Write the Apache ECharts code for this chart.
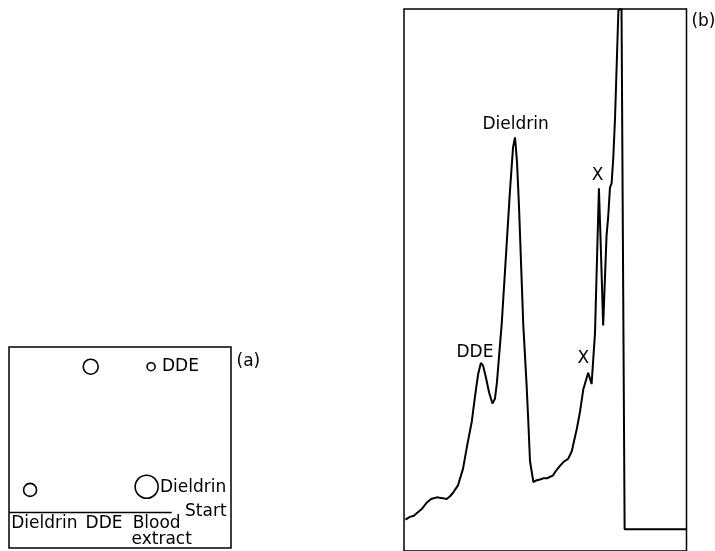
<!DOCTYPE html>
<html>
<head>
<meta charset="utf-8">
<script src="https://cdn.jsdelivr.net/npm/echarts@6/dist/echarts.min.js"></script>
<style>html,body{margin:0;padding:0;background:#fff}#c{width:715px;height:551px}</style>
</head>
<body>
<div id="c"></div>
<script>
// ---------- Panel (a): thin-layer plate ----------
const spotX = [36.8, 64.0, 9.5, 62.0];          // lane position
const spotRf = [90.2, 90.2, 28.9, 30.5];        // migration distance
const spotSize = [15, 8, 13, 23];               // spot diameter
const startLineX = [0, 73.3];
const startLineY = [17.6, 17.6];
const plateText = ["DDE", "Dieldrin", "Start", "Dieldrin", "DDE", "Blood", "extract", "(a)"];
const plateTextX = [68.9, 68.0, 79.3, 1.0, 34.5, 55.7, 55.2, 102.5];
const plateTextY = [90.2, 30.3, 18.1, 12.3, 12.3, 12.3, 4.3, 92.7];

// ---------- Panel (b): chromatogram trace ----------
const traceX = [0.5, 2.1, 3.5, 5.0, 6.4, 8.0, 9.6, 11.6, 13.1, 15.1, 16.3, 17.3, 19.1, 20.9, 22.3, 24.0, 25.1, 26.2, 27.2, 28.0,
  29.0, 30.1, 31.3, 32.2, 32.9, 34.6, 36.1, 37.5, 38.6, 39.3, 40.0, 40.7, 42.2, 43.4, 44.0, 44.6, 45.8, 46.7, 48.1, 49.3,
  50.6, 51.7, 52.7, 53.8, 55.2, 56.6, 58.1, 59.4, 60.2, 61.2, 62.3, 63.5, 65.2, 66.4, 67.6, 69.0, 69.7, 70.5, 71.7, 72.3,
  72.9, 73.5, 74.1, 74.7, 75.9, 76.5, 77.0, 78.1, 100];
const traceY = [5.8, 6.3, 6.5, 7.2, 7.8, 8.9, 9.6, 9.9, 9.8, 9.6, 10.1, 10.7, 12.1, 15.2, 19.3, 23.9, 28.4, 32.5, 34.7, 34.2,
  32.0, 29.3, 27.2, 28.1, 31.1, 42.0, 54.6, 66.4, 74.5, 76.3, 71.8, 63.7, 42.0, 30.6, 23.9, 16.6, 12.7, 13.0, 13.2, 13.4,
  13.4, 13.7, 13.9, 14.8, 15.7, 16.5, 17.0, 18.4, 20.3, 22.6, 25.7, 29.9, 32.9, 30.8, 40.1, 66.9, 55.5, 41.6, 58.2, 61.8,
  67.0, 67.9, 72.7, 79.9, 99.8, 100, 100, 4.0, 4.0];
const peakText = ["Dieldrin", "DDE", "X", "X", "(b)"];
const peakTextX = [39.5, 25.1, 63.5, 68.5, 106];
const peakTextY = [78.7, 36.7, 35.5, 69.3, 97.7];

const FONT = "DejaVu Sans";
const FS = 17;

const zip = (a, b) => a.map((v, i) => [v, b[i]]);

const chart = echarts.init(document.getElementById('c'), null, {renderer: 'canvas'});
chart.setOption({
  animation: false,
  backgroundColor: '#fff',
  grid: [
    {left: 9, top: 347, width: 222, height: 201, show: true, borderColor: '#000', borderWidth: 1.5, backgroundColor: 'transparent'},
    {left: 404, top: 9, width: 282.5, height: 553, show: true, borderColor: '#000', borderWidth: 1.5, backgroundColor: 'transparent'}
  ],
  xAxis: [
    {gridIndex: 0, type: 'value', min: 0, max: 100, show: false},
    {gridIndex: 1, type: 'value', min: 0, max: 100, show: false}
  ],
  yAxis: [
    {gridIndex: 0, type: 'value', min: 0, max: 100, show: false},
    {gridIndex: 1, type: 'value', min: 0, max: 100, show: false}
  ],
  series: [
    {
      type: 'scatter', xAxisIndex: 0, yAxisIndex: 0, symbol: 'circle',
      data: spotX.map((x, i) => ({value: [x, spotRf[i]], symbolSize: spotSize[i]})),
      itemStyle: {color: 'transparent', borderColor: '#000', borderWidth: 1.6, opacity: 1},
      silent: true
    },
    {
      type: 'line', xAxisIndex: 0, yAxisIndex: 0, symbol: 'none',
      data: zip(startLineX, startLineY),
      lineStyle: {color: '#000', width: 1.5}
    },
    {
      type: 'scatter', xAxisIndex: 0, yAxisIndex: 0, symbolSize: 0, clip: false,
      itemStyle: {opacity: 1},
      data: plateText.map((t, i) => ({name: t, value: [plateTextX[i], plateTextY[i]]})),
      label: {show: true, position: 'inside', align: 'left', verticalAlign: 'middle',
        formatter: p => p.name, color: '#000', fontFamily: FONT, fontSize: FS}
    },
    {
      type: 'line', xAxisIndex: 1, yAxisIndex: 1, symbol: 'none',
      data: zip(traceX, traceY),
      lineStyle: {color: '#000', width: 2},
      clip: true
    },
    {
      type: 'scatter', xAxisIndex: 1, yAxisIndex: 1, symbolSize: 0, clip: false,
      itemStyle: {opacity: 1},
      data: peakText.map((t, i) => ({name: t, value: [peakTextX[i], peakTextY[i]]})),
      label: {show: true, position: 'inside', align: 'center', verticalAlign: 'middle',
        formatter: p => p.name, color: '#000', fontFamily: FONT, fontSize: FS}
    }
  ]
});
</script>
</body>
</html>
